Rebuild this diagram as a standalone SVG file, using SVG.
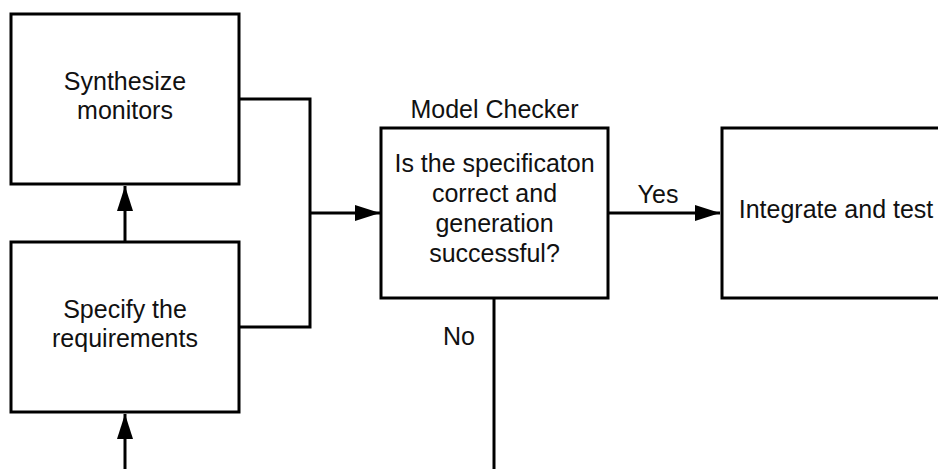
<svg xmlns="http://www.w3.org/2000/svg" width="938" height="469" viewBox="0 0 938 469">
  <style>
    .box { fill: #ffffff; stroke: #000000; stroke-width: 3; }
    .line { fill: none; stroke: #000000; stroke-width: 3; }
    text { font-family: "Liberation Sans", Arial, sans-serif; font-size: 25px; fill: #111111; text-anchor: middle; }
  </style>
  <defs>
    <marker id="arrow" markerUnits="userSpaceOnUse" markerWidth="26" markerHeight="18" refX="25" refY="8" orient="auto">
      <path d="M0,0 L25,8 L0,16 Z" fill="#000000"/>
    </marker>
  </defs>
  <rect width="938" height="469" fill="#ffffff"/>

  <g id="connectors">
    <!-- into Specify the requirements from below -->
    <line class="line" x1="125" y1="469" x2="125" y2="414" marker-end="url(#arrow)"/>
    <!-- Specify the requirements to Synthesize monitors -->
    <line class="line" x1="125" y1="242" x2="125" y2="186" marker-end="url(#arrow)"/>
    <!-- both boxes join into the model checker -->
    <polyline class="line" points="239,99 310,99 310,327 239,327"/>
    <line class="line" x1="310" y1="213" x2="380" y2="213" marker-end="url(#arrow)"/>
    <!-- Yes branch -->
    <line class="line" x1="608" y1="213" x2="720" y2="213" marker-end="url(#arrow)"/>
    <text x="658" y="203">Yes</text>
    <!-- No branch -->
    <line class="line" x1="494" y1="298" x2="494" y2="469"/>
    <text x="459" y="345">No</text>
  </g>

  <g id="synthesize">
    <rect class="box" x="11" y="14" width="228" height="170"/>
    <text x="125" y="90">Synthesize</text>
    <text x="125" y="119">monitors</text>
  </g>

  <g id="specify">
    <rect class="box" x="11" y="242" width="228" height="170"/>
    <text x="125" y="318">Specify the</text>
    <text x="125" y="347">requirements</text>
  </g>

  <g id="model-checker">
    <text x="494.5" y="118">Model Checker</text>
    <rect class="box" x="381" y="128" width="227" height="170"/>
    <text x="494.5" y="172">Is the specificaton</text>
    <text x="494.5" y="202">correct and</text>
    <text x="494.5" y="232">generation</text>
    <text x="494.5" y="262">successful?</text>
  </g>

  <g id="integrate">
    <rect class="box" x="722" y="128" width="227" height="170"/>
    <text x="836" y="218">Integrate and test</text>
  </g>
</svg>
